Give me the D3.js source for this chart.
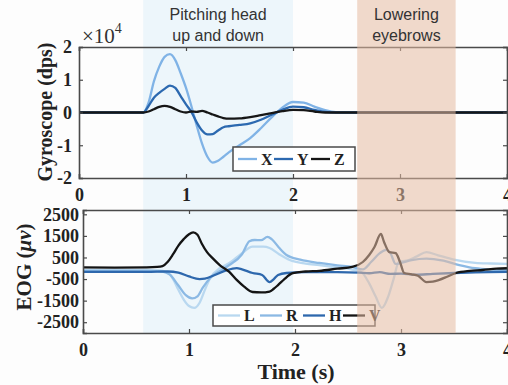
<!DOCTYPE html>
<html>
<head>
<meta charset="utf-8">
<script src="https://cdn.jsdelivr.net/npm/d3@7"></script>
<style>
  body { margin: 0; background: #fff; }
  svg { display: block; }
</style>
</head>
<body>
<svg></svg>
<script>
// basic parameters
const svgWidth = 508
const svgHeight = 385

// gyroscope data (dps)
const gyroTime = [0, 0.3, 0.6, 0.65, 0.7, 0.75, 0.8, 0.85, 0.9, 0.95, 1.0, 1.05, 1.1, 1.15, 1.2, 1.25, 1.3, 1.35, 1.4, 1.5, 1.6, 1.7, 1.8, 1.9, 2.0, 2.1, 2.2, 2.3, 2.4, 2.6, 3.0, 3.5, 4.0]
const gyroX = [0, 0, 0, 3000, 9500, 14000, 17000, 17800, 16000, 12000, 7500, 2000, -4000, -9500, -13500, -15300, -14700, -13500, -12200, -10000, -7800, -4800, -1500, 1500, 3200, 3000, 1800, 700, 100, 0, 0, 0, 0]
const gyroY = [0, 0, 0, 2000, 4500, 6000, 7200, 8200, 7500, 5000, 2500, 200, -3000, -5500, -6700, -6600, -5500, -4500, -4200, -3800, -3300, -2200, -700, 800, 1800, 1600, 800, 200, 0, 0, 0, 0, 0]
const gyroZ = [0, 0, 0, 300, 1000, 1700, 2000, 1700, 1000, 300, 0, 300, 200, 500, 0, -600, -1200, -1700, -1900, -1800, -1400, -800, -200, 400, 800, 700, 300, 0, 0, 0, 0, 0, 0]
const gyroNames = ["X", "Y", "Z"]
const gyroColors = ["#80b3e6", "#2c69b0", "#161616"]
const gyroTicks = [-20000, -10000, 0, 10000, 20000]

// EOG data (uV)
const eogLTime = [0, 0.6, 0.7, 0.78, 0.85, 0.9, 0.95, 1.0, 1.05, 1.1, 1.15, 1.2, 1.29, 1.38, 1.5, 1.6, 1.7, 1.76, 1.85, 1.95, 2.1, 2.23, 2.4, 2.54, 2.62, 2.7, 2.76, 2.82, 2.88, 2.93, 2.98, 3.05, 3.15, 3.24, 3.35, 3.5, 3.7, 3.85, 4.0]
const eogL = [-80, -80, -100, -150, -500, -1000, -1450, -1750, -1840, -1600, -1000, -450, 0, 240, 700, 1000, 1000, 940, 650, 380, 220, 150, 40, -60, -150, -700, -1300, -1840, -1300, -500, 300, 350, 550, 750, 600, 400, 250, 220, 200]
const eogRTime = [0, 0.6, 0.75, 0.82, 0.9, 0.97, 1.03, 1.08, 1.13, 1.2, 1.3, 1.38, 1.5, 1.57, 1.62, 1.68, 1.74, 1.78, 1.85, 1.92, 2.05, 2.23, 2.4, 2.54, 2.64, 2.72, 2.8, 2.86, 2.9, 2.95, 3.0, 3.1, 3.24, 3.4, 3.55, 3.7, 3.85, 4.0]
const eogR = [-120, -120, -150, -300, -800, -1250, -1400, -1300, -900, -450, -100, 150, 650, 1250, 1310, 1300, 1450, 1350, 950, 615, 400, 245, 130, 60, -50, 300, 700, 850, 700, 200, 250, 380, 450, 350, 150, 0, -60, -80]
const eogHTime = [0, 0.6, 0.8, 0.9, 1.0, 1.1, 1.15, 1.25, 1.35, 1.45, 1.5, 1.6, 1.69, 1.76, 1.8, 1.84, 1.92, 2.1, 2.4, 2.6, 2.7, 2.8, 2.9, 3.0, 3.14, 3.3, 3.5, 3.7, 4.0]
const eogH = [-170, -170, -150, -200, -380, -500, -480, -300, -100, 10, -50, -220, -310, -640, -500, -310, -220, -180, -180, -200, -230, -180, -260, -250, -300, -260, -220, -190, -170]
const eogVTime = [0, 0.3, 0.6, 0.7, 0.75, 0.8, 0.85, 0.9, 0.95, 1.0, 1.04, 1.08, 1.12, 1.17, 1.22, 1.29, 1.38, 1.45, 1.52, 1.6, 1.68, 1.76, 1.8, 1.84, 1.9, 1.98, 2.1, 2.23, 2.4, 2.54, 2.64, 2.7, 2.75, 2.81, 2.84, 2.89, 2.95, 2.99, 3.03, 3.1, 3.16, 3.24, 3.3, 3.36, 3.44, 3.52, 3.65, 3.77, 3.9, 4.0]
const eogV = [40, 30, 40, 60, 100, 300, 650, 1050, 1350, 1580, 1660, 1550, 1150, 750, 480, 150, -170, -540, -850, -1100, -1120, -1080, -950, -780, -500, -230, -150, -120, -20, 60, 290, 615, 985, 1590, 1220, 750, 700, 300, -220, -280, -350, -640, -620, -540, -380, -220, -120, -80, -20, 0]
const eogNames = ["L", "R", "H", "V"]
const eogColors = ["#b9d8f0", "#8bb9e4", "#2e68ad", "#141414"]
const eogTicks = [-2500, -1500, -500, 500, 1500, 2500]

const timeTicks = [0, 1, 2, 3, 4]

// shaded events
const eventNames = [["Pitching head", "up and down"], ["Lowering", "eyebrows"]]
const eventStart = [0.6, 2.6]
const eventEnd = [2.0, 3.52]

const serif = "'Liberation Serif', 'Times New Roman', serif"
const sans = "'Liberation Sans', Arial, sans-serif"
const frameColor = "#4a4a4a"

var svg = d3.select("svg")
  .attr("width", svgWidth)
  .attr("height", svgHeight)

svg.append("rect").attr("width", svgWidth).attr("height", svgHeight).attr("fill", "#fdfdfd")

// scales
var xTop = d3.scaleLinear().domain([0, 4]).range([79, 507])
var yTop = d3.scaleLinear().domain([-20000, 20000]).range([178, 47])
var xBot = d3.scaleLinear().domain([0, 4]).range([83, 507])
var yBot = d3.scaleLinear().domain([-3000, 2700]).range([333, 210])

// blue event shading sits under the lines
svg.append("rect")
  .attr("x", xTop(eventStart[0]))
  .attr("y", 0)
  .attr("width", xTop(eventEnd[0]) - xTop(eventStart[0]))
  .attr("height", yBot.range()[0])
  .attr("fill", "#edf6fb")

function panel(xs, ys, ticksY, fmtY, padY, series, names, colors, legend, id) {
  var g = svg.append("g")
  var x0 = xs.range()[0], x1 = xs.range()[1]
  var y0 = ys.range()[1], y1 = ys.range()[0]

  svg.append("clipPath").attr("id", id)
    .append("rect").attr("x", x0).attr("y", y0).attr("width", x1 - x0).attr("height", y1 - y0)

  var line = d3.line()
    .x(d => xs(d[0]))
    .y(d => ys(d[1]))
    .curve(d3.curveMonotoneX)

  g.append("g").attr("clip-path", "url(#" + id + ")")
    .selectAll("path")
    .data(series)
    .enter()
    .append("path")
      .attr("d", d => line(d3.zip(d[0], d[1])))
      .attr("fill", "none")
      .attr("stroke", (d, i) => colors[i])
      .attr("stroke-width", 2.3)
      .attr("stroke-linejoin", "round")

  // axes with inward ticks on all sides
  var fontCss = sel => sel.selectAll("text")
    .attr("font-family", serif).attr("font-weight", "bold").attr("font-size", 18).attr("fill", "#222")

  g.append("g").attr("transform", "translate(0," + y1 + ")")
    .call(d3.axisBottom(xs).tickValues(timeTicks).tickSize(-4).tickPadding(10).tickFormat(d3.format("d")))
    .call(fontCss)
  g.append("g").attr("transform", "translate(0," + y0 + ")")
    .call(d3.axisTop(xs).tickValues(timeTicks).tickSize(-4).tickFormat(""))
  g.append("g").attr("transform", "translate(" + x0 + ",0)")
    .call(d3.axisLeft(ys).tickValues(ticksY).tickSize(-4).tickPadding(padY).tickFormat(fmtY))
    .call(fontCss)
  g.append("g").attr("transform", "translate(" + x1 + ",0)")
    .call(d3.axisRight(ys).tickValues(ticksY).tickSize(-4).tickFormat(""))

  g.selectAll(".domain").attr("stroke", frameColor).attr("stroke-width", 1.6)
  g.selectAll(".tick line").attr("stroke", frameColor).attr("stroke-width", 1.2)

  // legend
  var lg = g.append("g")
  lg.append("rect")
    .attr("x", legend.x).attr("y", legend.y).attr("width", legend.w).attr("height", legend.h)
    .attr("fill", "#fff").attr("stroke", frameColor).attr("stroke-width", 1.5)
  var item = lg.selectAll(".item").data(names).enter().append("g")
    .attr("transform", (d, i) => "translate(" + legend.pos[i] + "," + (legend.y + legend.h / 2) + ")")
  item.append("line")
    .attr("x1", 0).attr("x2", legend.len).attr("y1", 0).attr("y2", 0)
    .attr("stroke", (d, i) => colors[i]).attr("stroke-width", 2.3)
  item.append("text")
    .attr("x", legend.len + 4).attr("y", 5.5)
    .attr("font-family", serif).attr("font-weight", "bold").attr("font-size", 16).attr("fill", "#222")
    .text(d => d)
}

panel(xTop, yTop, gyroTicks, d => d / 10000, 7,
  [[gyroTime, gyroX], [gyroTime, gyroY], [gyroTime, gyroZ]],
  gyroNames, gyroColors,
  { x: 233, y: 147, w: 122, h: 24, len: 19, pos: [238, 274, 311] }, "clipTop")

panel(xBot, yBot, eogTicks, d => d, 4,
  [[eogLTime, eogL], [eogRTime, eogR], [eogHTime, eogH], [eogVTime, eogV]],
  eogNames, eogColors,
  { x: 213, y: 305, w: 162, h: 21, len: 22, pos: [218, 260, 303, 343] }, "clipBot")

// exponent
var ex = svg.append("text").attr("x", 82).attr("y", 43)
  .attr("font-family", serif).attr("font-size", 21).attr("fill", "#333")
ex.append("tspan").text("\u00d710")
ex.append("tspan").attr("dy", -10).attr("font-size", 14).text("4")

// y labels
svg.append("text")
  .attr("transform", "translate(52,112) rotate(-90)")
  .attr("text-anchor", "middle")
  .attr("font-family", serif).attr("font-weight", "bold").attr("font-size", 20).attr("fill", "#222")
  .text("Gyroscope (dps)")

var eog = svg.append("text")
  .attr("transform", "translate(31,267) rotate(-90)")
  .attr("text-anchor", "middle")
  .attr("font-family", serif).attr("font-weight", "bold").attr("font-size", 21).attr("fill", "#222")
eog.append("tspan").text("EOG (")
eog.append("tspan").attr("font-style", "italic").text("\u03bcv")
eog.append("tspan").text(")")

// x label
svg.append("text")
  .attr("x", 296).attr("y", 379)
  .attr("text-anchor", "middle")
  .attr("font-family", serif).attr("font-weight", "bold").attr("font-size", 22).attr("fill", "#222")
  .text("Time (s)")

// orange shading drawn over the lines
svg.append("rect")
  .attr("x", xTop(eventStart[1]))
  .attr("y", 0)
  .attr("width", xTop(eventEnd[1]) - xTop(eventStart[1]))
  .attr("height", yBot.range()[0])
  .attr("fill", "#e6bca2")
  .attr("opacity", 0.55)

// event titles
eventNames.forEach((lines, i) => {
  var cx = (xTop(eventStart[i]) + xTop(eventEnd[i])) / 2
  lines.forEach((t, j) => {
    svg.append("text")
      .attr("x", cx).attr("y", 20 + j * 21)
      .attr("text-anchor", "middle")
      .attr("font-family", sans).attr("font-size", 16).attr("fill", "#333")
      .text(t)
  })
})
</script>
</body>
</html>
